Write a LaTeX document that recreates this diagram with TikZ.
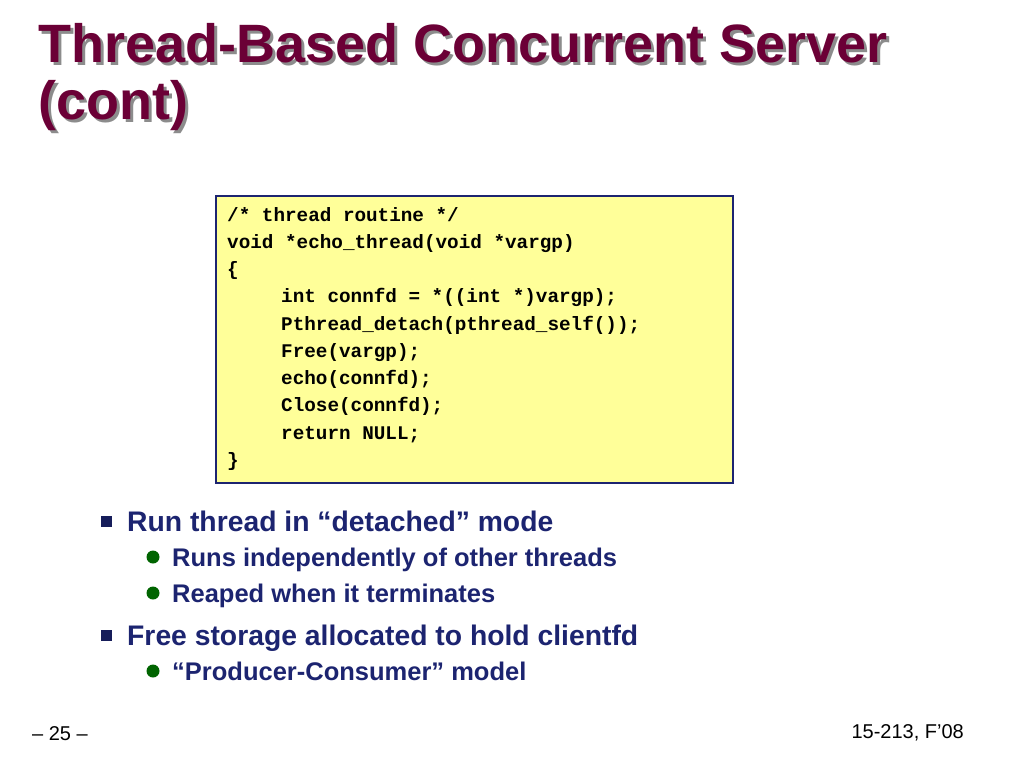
\documentclass[tikz,border=0pt]{standalone}
\usepackage{fontspec}
\setmainfont{Liberation Sans}
\setmonofont{Liberation Mono}
\usetikzlibrary{positioning}
\definecolor{titlered}{HTML}{6B0036}
\definecolor{navy}{HTML}{1C2470}
\definecolor{codebg}{HTML}{FFFF99}
\definecolor{bulletgreen}{HTML}{006400}

\begin{document}
\begin{tikzpicture}[
    x=1pt, y=-1pt,
    font=\sffamily\bfseries
]
\tikzset{
    titletext/.style = {anchor=base west, inner sep=0, text=titlered, font=\bfseries\fontsize{54}{58}\selectfont},
    titleshadow/.style = {anchor=base west, inner sep=0, text=black!45, font=\bfseries\fontsize{54}{58}\selectfont},
    codeline/.style = {anchor=base west, inner sep=0, font=\ttfamily\bfseries\fontsize{19.3}{21}\selectfont},
    mainitem/.style = {anchor=base west, inner sep=0, text=navy, font=\bfseries\fontsize{28.3}{32}\selectfont},
    subitem/.style = {anchor=base west, inner sep=0, text=navy, font=\bfseries\fontsize{25.5}{28}\selectfont},
    footer/.style = {inner sep=0, font=\fontsize{20}{22}\selectfont},
    sqbullet/.style = {fill=navy!80!black, minimum size=11pt, inner sep=0},
    dotbullet/.style = {circle, fill=bulletgreen, minimum size=13pt, inner sep=0}
}
\useasboundingbox (0,0) rectangle (1024,768);
% title
\node[titleshadow] at (41,66) (ts1) {Thread-Based Concurrent Server};
\node[titleshadow] at (41,122) (ts2) {(cont)};
\node[titletext] at (38,63) (t1) {Thread-Based Concurrent Server};
\node[titletext] at (38,119) (t2) {(cont)};
% code box
\draw[navy, line width=2pt, fill=codebg] (216,196) rectangle (733,483);
\node[codeline] at (227,221) (c1) {/* thread routine */};
\node[codeline] at (227,248) (c2) {void *echo\_thread(void *vargp)};
\node[codeline] at (227,275) (c3) {\{};
\node[codeline] at (281,302) (c4) {int connfd = *((int *)vargp);};
\node[codeline] at (281,330) (c5) {Pthread\_detach(pthread\_self());};
\node[codeline] at (281,357) (c6) {Free(vargp);};
\node[codeline] at (281,384) (c7) {echo(connfd);};
\node[codeline] at (281,411) (c8) {Close(connfd);};
\node[codeline] at (281,439) (c9) {return NULL;};
\node[codeline] at (227,466) (c10) {\}};
% bullets
\node[sqbullet] at (106,521) (b1) {};
\node[mainitem] at (127,531) (m1) {Run thread in “detached” mode};
\node[dotbullet] at (153,557) (b2) {};
\node[subitem] at (172,566) (s1) {Runs independently of other threads};
\node[dotbullet] at (153,593) (b3) {};
\node[subitem] at (172,602) (s2) {Reaped when it terminates};
\node[sqbullet] at (106,635) (b4) {};
\node[mainitem] at (127,645) (m2) {Free storage allocated to hold clientfd};
\node[dotbullet] at (153,671) (b5) {};
\node[subitem] at (172,680) (s3) {“Producer-Consumer” model};
% footer
\node[footer, anchor=base west] at (32,740) (pg) {– 25 –};
\node[footer, anchor=base east] at (964,738) (crs) {15-213, F’08};
\end{tikzpicture}
\end{document}
